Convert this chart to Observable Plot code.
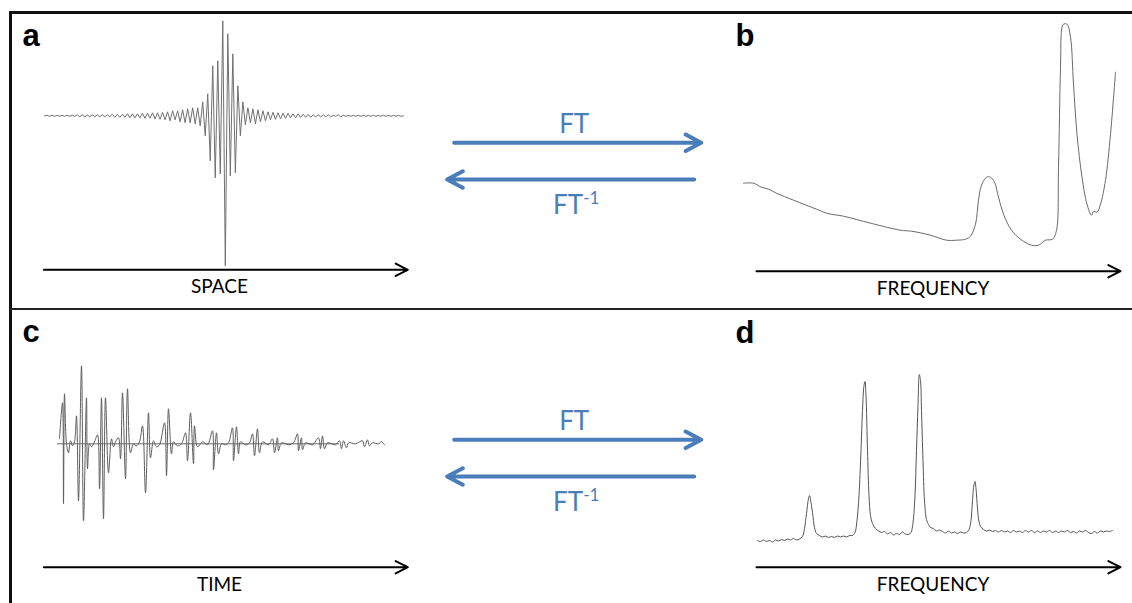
<!DOCTYPE html>
<html>
<head>
<meta charset="utf-8">
<script src="https://cdn.jsdelivr.net/npm/d3@7"></script>
<script src="https://cdn.jsdelivr.net/npm/@observablehq/plot@0.6"></script>
<style>
  html, body { margin: 0; padding: 0; background: #fff; }
  #fig { position: relative; width: 1132px; height: 603px; overflow: hidden; background: #fff; }
  #fig svg { position: absolute; }
  .rule { position: absolute; background: #151515; }
</style>
</head>
<body>
<div id="fig"></div>
<script>
// ---------------- DATA ----------------
// (a) interferogram: signed half-cycle extrema, one per sample index (position)
const interferogram = [
  0, 0.5, -0.5, 0.5, -0.5, 0.5, -0.5, 0.5, -0.5, 0.5,
  -0.5, 0.5, -0.5, 1, -1, 1, -1, 1, -1, 1,
  -1, 1, -1, 1, -1, 1, -1, 1.5, -1.5, 1.5,
  -1.5, 1.5, -1.5, 2, -2, 2, -2, 2, -2, 2.5,
  -2.5, 2.5, -2.5, 3, -3, 3, -3.5, 3.5, -4, 4,
  -5, 5, -4, 5, -6, 6, -7, 7, -7, 8,
  -8, 8, -10, 14, -20, 22, -45, 50, -62, 55,
  -58, 95, -150, 82, -60, 62, -57, 30, -20, 14,
  -9, 8, -7, 7, -8, 6, -6, 5, -5, 4,
  -4, 3.5, -3.5, 3, -3, 2.5, -2.5, 2.5, -2, 2,
  -2, 2, -1.5, 1.5, -1.5, 1.5, -1.5, 1, -1, 1,
  -1, 1, -1, 1, -1, 0.5, -0.5, 1, -1, 0.5,
  -0.5, 0.5, -0.5, 0.5, -0.5, 0.5, -0.5, 0.5, -0.5, 0.5,
  -0.5, 0.5, -0.5, 0.5, -0.5, 0.5, -0.5, 0.5, -0.5, 0.5,
  -0.5, 0.5, -0.5, 0
];

// (b) broad spectrum: frequency vs intensity
const freqB = [0,10,18,25,33,50,73,83,100,127,157,168,187,203,213,222,227,232,235,238,243,247,251,255,260,268,277,288,295,302,309,313,315,317,318.5,320,323.5,327,330,333.5,338.5,343.5,348,350,353.5,357,362,367,372];
const intensityB = [88,88,84,82,78,71,62,58,55,48,41,40,36,31,31,32,35,47,71,86,94,94,89,74,57,41,32,26,26,31,32,41,104,204,244,247,247,234,187,137,94,67,56,60,59,67,91,137,199];

// (c) free induction decay: time vs amplitude
const fidTime = [2,5,6,7,9,11,13,15,17,19,21,24,26,29,30,32,34,37,40,42,44,46,48,51,54,56,58,61,63,65,68,70,73,76,79,82,85,88,91,93,96,99,102,107,109,111,114,116,120,124,128,130,133,136,137,140,145,150,155,156,159,161,164,168,171,175,176,179,181,183,188,192,195,197,200,202,205,211,215,217,220,221,224,231,236,240,241,244,245,248,255,261,263,265,267,270,278,282,284,286,289,291,298,305,307,310,312,315,321,324,327];
const fidAmplitude = [5,41,-60,50,0,-9,3,-2,2,28,-57,78,-77,46,-25,0,-3,2,9,-45,46,-75,46,-29,5,-3,2,6,-15,51,-35,55,-9,0,-2,2,18,-49,31,-14,3,-3,-1,21,-32,35,-10,2,-2,0,11,-17,31,-20,18,-3,2,-1,13,-26,11,-10,0,-1,1,16,-17,17,-10,2,-1,1,10,-12,15,-9,2,-1,5,-9,6,-7,1,-1,1,10,-7,6,-6,1,-1,6,-5,8,-5,1,-1,3,-5,3,-4,1,0,3,-3,4,-2,1,0,2,-1];
const fidBaselineEnd = 282;

// (d) line spectrum: frequency vs intensity
const freqD = [0,3,6,9,12,15,18,21,24,27,30,33,36,39,42,45,47,49,51,52,53,55,57,59,62,65,68,71,74,77,80,83,86,89,92,95,97.5,99.5,101.5,103.5,105,106.5,107.5,108.5,110,111.5,113,115,118,121,124,127,130,133,136,139,142,145,148,151,153.5,155.5,157.5,159,160.5,161.8,163,164,165.5,167,169,171,173,176,179,182,185,188,191,194,197,200,203,206,209,211.5,213.5,215,216.5,217.5,218.5,220,221.5,223,226,229,232,235,238,241,244,247,250,253,256,259,262,265,268,271,274,277,280,283,286,289,292,295,298,301,304,307,310,313,316,319,322,325,328,331,334,337,340,343,346,349,352,355];
const intensityD = [1,0,1.5,0,1,-0.5,1.5,0.5,2,1,2.5,1.5,3,1.5,2.5,5,13,28,43,46,42,29,14,8,6,4.5,5.5,4,5,4,5.5,4.5,5.5,4.5,6,6,9,21,46,91,131,156,160,146,91,46,26,18,13,10.5,9,10,7.5,9,6.5,8,7,9.5,7.5,7,9,19,46,91,136,167,161,131,81,41,22,17,14,13,10.5,11.5,10,8.5,10.5,8.5,9.5,8,9.5,8.5,9,12,21,41,57,60,53,33,20,15,12,10.5,11.5,10,11,9.5,11,9.5,10.5,9,11,9.5,10.5,9,11,9.5,11,9,10.5,9,10.5,9.5,11,9,10.5,9,10.5,9.5,11,9,10,8.5,10.5,9.5,11,9,8,10,8.5,10.5,9.5,10.5,10,11];

// labels
const panelLetters = ["a", "b", "c", "d"];
const axisLabels = ["SPACE", "FREQUENCY", "TIME", "FREQUENCY"];
const transforms = [
  {name: "FT", direction: 1, superscript: ""},
  {name: "FT", direction: -1, superscript: "-1"}
];

// ---------------- DRAWING ----------------
const fig = document.getElementById("fig");
const BLUE = "#4a7ebb";

function addRule(left, top, width, height, color) {
  const d = document.createElement("div");
  d.className = "rule";
  Object.assign(d.style, {left: left + "px", top: top + "px", width: width + "px", height: height + "px"});
  if (color) d.style.background = color;
  fig.appendChild(d);
}

function place(svg, left, top) {
  svg.style.left = left + "px";
  svg.style.top = top + "px";
  fig.appendChild(svg);
}

function panelPlot(cfg) {
  const {width, height, xDomain, xRange, yDomain, yRange, series, curve, stroke,
         letter, letterDx, letterDy, label, labelX, extra = []} = cfg;
  return Plot.plot({
    width, height, margin: 0,
    x: {domain: xDomain, range: xRange, axis: null},
    y: {domain: yDomain, range: yRange, axis: null},
    style: {background: "transparent", overflow: "visible"},
    marks: [
      ...extra,
      Plot.line(series, {x: "x", y: "y", stroke, strokeWidth: 1, curve}),
      Plot.arrow([{x1: xDomain[0], x2: xDomain[1], y: yDomain[0]}],
        {x1: "x1", x2: "x2", y1: "y", y2: "y", stroke: "#000", strokeWidth: 2, headLength: 10.2, headAngle: 54}),
      Plot.text([label], {x: labelX, y: yDomain[0], text: d => d, dy: 23.5, lineAnchor: "bottom",
        fontSize: 19, fontFamily: "Lato", fill: "#000"}),
      Plot.text([letter], {frameAnchor: "top-left", dx: letterDx, dy: letterDy, text: d => d,
        textAnchor: "start", lineAnchor: "bottom", fontSize: 31, fontWeight: "bold",
        fontFamily: "Liberation Sans, Arial, sans-serif", fill: "#000"})
    ]
  });
}

// panel a
place(panelPlot({
  width: 566, height: 297,
  xDomain: [-0.3, 144.7], xRange: [43.3, 407.3],
  yDomain: [-154, 100], yRange: [257.3, 3.3],
  series: interferogram.map((v, i) => ({x: i, y: v})),
  curve: "linear", stroke: "#707070",
  letter: panelLetters[0], letterDx: 22, letterDy: 33,
  label: axisLabels[0], labelX: 69.7
}), 0, 12);

// panel b
place(panelPlot({
  width: 566, height: 297,
  xDomain: [13, 377], xRange: [190, 554],
  yDomain: [0, 260], yRange: [258.7, -1.3],
  series: freqB.map((f, i) => ({x: f, y: intensityB[i]})),
  curve: "catmull-rom", stroke: "#6a6a6a",
  letter: panelLetters[1], letterDx: 169, letterDy: 33,
  label: axisLabels[1], labelX: 189.5
}), 566, 12);

// panel c
place(panelPlot({
  width: 566, height: 294,
  xDomain: [-13.7, 350.3], xRange: [43.3, 407.3],
  yDomain: [-123.4, 100], yRange: [257.7, 34.3],
  series: fidTime.map((t, i) => ({x: t, y: fidAmplitude[i]})),
  curve: "catmull-rom", stroke: "#5e5e5e",
  letter: panelLetters[2], letterDx: 22, letterDy: 32,
  label: axisLabels[2], labelX: 162,
  extra: [Plot.ruleY([0], {x1: 0, x2: fidBaselineEnd, stroke: "#6a6a6a", strokeWidth: 1})]
}), 0, 309);

// panel d
place(panelPlot({
  width: 566, height: 294,
  xDomain: [-1, 363], xRange: [190, 554],
  yDomain: [-25.7, 200], yRange: [257.7, 32],
  series: freqD.map((f, i) => ({x: f, y: intensityD[i]})),
  curve: "catmull-rom", stroke: "#555",
  letter: panelLetters[3], letterDx: 169, letterDy: 33,
  label: axisLabels[3], labelX: 175.5
}), 566, 309);

// FT / inverse FT arrows
function transformPlot() {
  const svg = Plot.plot({
    width: 290, height: 140, margin: 0,
    x: {domain: [-1, 1], range: [16.7, 270.7], axis: null},
    y: {domain: [1, -1], range: [52.3, 89], axis: null},
    style: {background: "transparent", overflow: "visible"},
    marks: [
      Plot.arrow(transforms, {x1: d => -d.direction, x2: d => d.direction, y1: "direction", y2: "direction",
        stroke: BLUE, strokeWidth: 4, headLength: 6.6, headAngle: 56, insetStart: 7,
        strokeLinecap: "round", strokeLinejoin: "round"}),
      Plot.text(transforms.filter(d => d.direction > 0), {x: 0, y: "direction", text: "name", dy: -9.6,
        lineAnchor: "bottom", fill: BLUE, fontSize: 26, fontFamily: "Lato"}),
      Plot.text(transforms.filter(d => d.direction < 0), {x: 0, y: "direction", text: "name", dy: 34.3, dx: 2,
        lineAnchor: "bottom", fill: BLUE, fontSize: 26, fontFamily: "Lato"})
    ]
  });
  const inv = transforms.find(d => d.direction < 0);
  const texts = svg.querySelectorAll("text");
  const last = texts[texts.length - 1];
  d3.select(last).append("tspan")
    .attr("dy", "-0.6em").attr("font-size", 17).text(inv.superscript);
  return svg;
}
place(transformPlot(), 430, 90);
place(transformPlot(), 430, 387);

// frame lines
addRule(9, 11, 1123, 3, "#111");
addRule(9, 11, 3, 592, "#111");
addRule(9, 307.5, 1123, 2.5, "#222");
</script>
</body>
</html>
